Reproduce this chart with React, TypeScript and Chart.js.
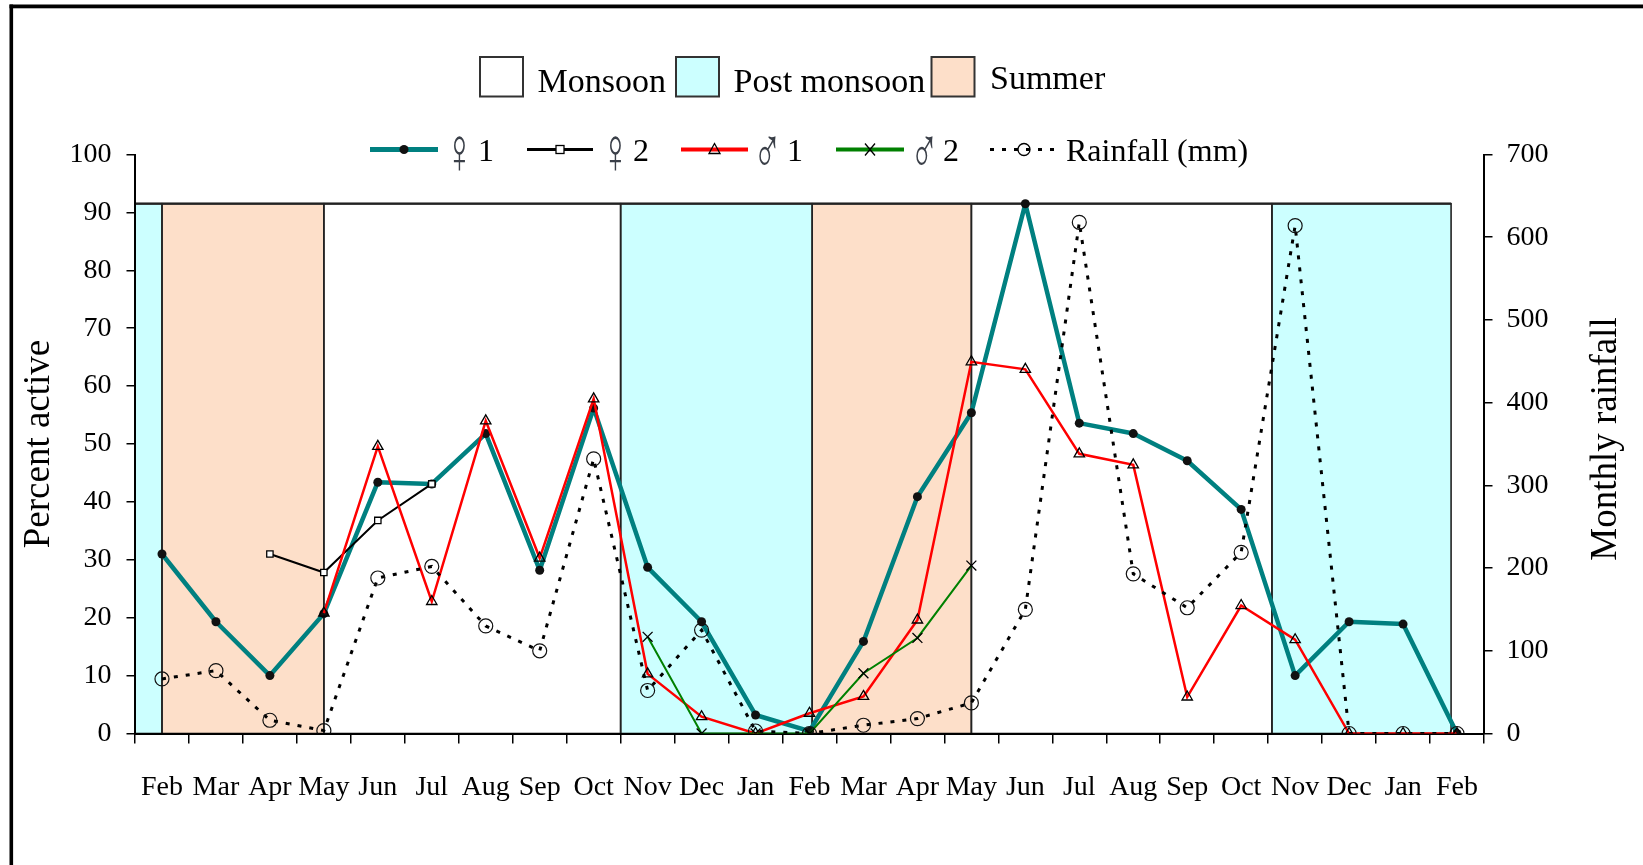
import React, { useEffect, useRef } from 'react';
import { Chart, registerables } from 'chart.js';

Chart.register(...registerables);

// ---------- data ----------
const months = ['Feb', 'Mar', 'Apr', 'May', 'Jun', 'Jul', 'Aug', 'Sep', 'Oct', 'Nov', 'Dec', 'Jan', 'Feb', 'Mar', 'Apr', 'May', 'Jun', 'Jul', 'Aug', 'Sep', 'Oct', 'Nov', 'Dec', 'Jan', 'Feb'];
const female1 = [31, 19.3, 10, 20.7, 43.4, 43.1, 51.8, 28.2, 56.2, 28.7, 19.3, 3.2, 0.4, 15.9, 40.9, 55.4, 91.5, 53.6, 51.8, 47.1, 38.7, 10, 19.3, 18.9, 0];
const female2 = [null, null, 31, 27.8, 36.8, 43.1, null, null, null, null, null, null, null, null, null, null, null, null, null, null, null, null, null, null, null];
const male1 = [null, null, null, 20.8, 49.6, 22.8, 54, 30.3, 57.8, 10.3, 2.9, 0, 3.5, 6.4, 19.6, 64.2, 62.9, 48.3, 46.4, 6.3, 22.1, 16.2, 0, 0, 0];
const male2 = [null, null, null, null, null, null, null, null, null, 16.7, 0, 0, 0, 10.4, 16.5, 29, null, null, null, null, null, null, null, null, null];
const rainfall = [66, 76, 16, 3.5, 188, 202, 130, 100, 332, 52, 125, 3, 0, 10, 18, 37, 150, 618, 193, 152, 219, 614, 0, 0, 0];

const seasonNames = ['Monsoon', 'Post monsoon', 'Summer'];
const seasonColors = ['#FFFFFF', '#CCFFFF', '#FDDFC9'];
// season bands in category-index units
const bandStart = [-0.5, 0, 3, 8.5, 12.05, 15, 20.57];
const bandEnd = [0, 3, 8.5, 12.05, 15, 20.57, 23.89];
const bandSeason = [1, 2, 0, 1, 2, 0, 1];
const bandTop = 91.5;

const seriesSymbols = ['\u2640', '\u2640', '\u2642', '\u2642', ''];
const seriesNumbers = ['1', '2', '1', '2', 'Rainfall (mm)'];
const seriesNames = ['\u2640 1', '\u2640 2', '\u2642 1', '\u2642 2', 'Rainfall (mm)'];
const leftTitle = 'Percent active';
const rightTitle = 'Monthly rainfall';

const SERIF = '"Liberation Serif", "Times New Roman", serif';
const TEAL = '#008080';
const RED = '#FF0000';
const GREEN = '#008000';

function drawMarker(ctx: CanvasRenderingContext2D, type: string, cx: number, cy: number) {
  ctx.save();
  ctx.setLineDash([]);
  ctx.strokeStyle = '#000';
  ctx.lineWidth = 1.3;
  if (type === 'dot') {
    ctx.fillStyle = '#111';
    ctx.beginPath();
    ctx.arc(cx, cy, 4.5, 0, Math.PI * 2);
    ctx.fill();
  } else if (type === 'rect') {
    ctx.fillStyle = '#fff';
    ctx.fillRect(cx - 4, cy - 4, 8, 8);
    ctx.strokeRect(cx - 4, cy - 4, 8, 8);
  } else if (type === 'tri') {
    ctx.beginPath();
    ctx.moveTo(cx, cy - 6);
    ctx.lineTo(cx + 5.5, cy + 4);
    ctx.lineTo(cx - 5.5, cy + 4);
    ctx.closePath();
    ctx.stroke();
  } else if (type === 'x') {
    ctx.beginPath();
    ctx.moveTo(cx - 5, cy - 6);
    ctx.lineTo(cx + 5, cy + 6);
    ctx.moveTo(cx + 5, cy - 6);
    ctx.lineTo(cx - 5, cy + 6);
    ctx.stroke();
  } else if (type === 'circle') {
    ctx.beginPath();
    ctx.arc(cx, cy, 6, 0, Math.PI * 2);
    ctx.stroke();
  }
  ctx.restore();
}

const framePlugin = {
  id: 'frameAndBands',
  beforeDraw(chart: any) {
    const { ctx, scales } = chart;
    const x = scales.x;
    const y = scales.y;
    ctx.save();
    // outer frame (top and left edges)
    ctx.fillStyle = '#000';
    ctx.fillRect(9.5, 4.5, chart.width, 3.8);
    ctx.fillRect(9.5, 4.5, 3.6, chart.height);
    // season bands
    const yt = y.getPixelForValue(bandTop);
    const yb = y.getPixelForValue(0);
    bandStart.forEach((s, i) => {
      const x0 = x.getPixelForValue(s);
      const x1 = x.getPixelForValue(bandEnd[i]);
      ctx.fillStyle = seasonColors[bandSeason[i]];
      ctx.fillRect(x0, yt, x1 - x0, yb - yt);
    });
    ctx.strokeStyle = '#222';
    ctx.lineWidth = 1.6;
    bandStart.forEach((s, i) => {
      const x0 = x.getPixelForValue(s);
      const x1 = x.getPixelForValue(bandEnd[i]);
      ctx.strokeRect(x0, yt, x1 - x0, yb - yt);
    });
    ctx.lineWidth = 2.2;
    ctx.beginPath();
    ctx.moveTo(x.getPixelForValue(bandStart[0]), yt);
    ctx.lineTo(x.getPixelForValue(bandEnd[bandEnd.length - 1]), yt);
    ctx.stroke();
    ctx.restore();
  },
  afterDraw(chart: any) {
    const { ctx } = chart;
    ctx.save();
    ctx.fillStyle = '#000';
    // axis titles
    ctx.font = `37px ${SERIF}`;
    ctx.textAlign = 'center';
    ctx.textBaseline = 'alphabetic';
    ctx.save();
    ctx.translate(49, 444);
    ctx.rotate(-Math.PI / 2);
    ctx.fillText(leftTitle, 0, 0);
    ctx.restore();
    ctx.save();
    ctx.translate(1616, 439);
    ctx.rotate(-Math.PI / 2);
    ctx.fillText(rightTitle, 0, 0);
    ctx.restore();

    // season legend (row 1)
    const boxes = [
      { x: 480, tx: 537.5, ty: 91.5 },
      { x: 676, tx: 733.5, ty: 91.5 },
      { x: 931.5, tx: 990, ty: 88.5 },
    ];
    ctx.textAlign = 'left';
    ctx.font = `34px ${SERIF}`;
    boxes.forEach((b, i) => {
      ctx.fillStyle = seasonColors[i];
      ctx.fillRect(b.x, 57, 43, 39.5);
      ctx.strokeStyle = '#333';
      ctx.lineWidth = 2;
      ctx.strokeRect(b.x, 57, 43, 39.5);
      ctx.fillStyle = '#000';
      ctx.fillText(seasonNames[i], b.tx, b.ty);
    });

    // series legend (row 2)
    const ly = 149.5;
    const items = [
      { x0: 370, x1: 438, sx: 445, nx: 478, color: TEAL, w: 5, dash: [] as number[], m: 'dot' },
      { x0: 527, x1: 593, sx: 601, nx: 633, color: '#000', w: 3, dash: [] as number[], m: 'rect' },
      { x0: 681, x1: 748, sx: 753, nx: 787, color: RED, w: 4, dash: [] as number[], m: 'tri' },
      { x0: 836, x1: 904, sx: 910, nx: 943, color: GREEN, w: 4, dash: [] as number[], m: 'x' },
      { x0: 990, x1: 1058, sx: 1066, nx: 1066, color: '#000', w: 3, dash: [4, 8], m: 'circle' },
    ];
    items.forEach((it, i) => {
      ctx.save();
      ctx.strokeStyle = it.color;
      ctx.lineWidth = it.w;
      ctx.setLineDash(it.dash);
      ctx.beginPath();
      ctx.moveTo(it.x0, ly);
      ctx.lineTo(it.x1, ly);
      ctx.stroke();
      ctx.restore();
      drawMarker(ctx, it.m, (it.x0 + it.x1) / 2, ly);
      if (seriesSymbols[i]) {
        ctx.save();
        ctx.translate(it.sx, 173);
        ctx.scale(0.62, 1.05);
        ctx.fillStyle = '#3a3f48';
        ctx.font = `200 62px "DejaVu Sans", sans-serif`;
        ctx.fillText(seriesSymbols[i], 0, 0);
        ctx.restore();
      }
      ctx.fillStyle = '#000';
      ctx.font = `32px ${SERIF}`;
      ctx.fillText(seriesNumbers[i], it.nx, 161);
    });
    ctx.restore();
  },
};

export default function App() {
  const ref = useRef<HTMLCanvasElement>(null);

  useEffect(() => {
    document.body.style.margin = '0';
    const tickFont = { family: SERIF, size: 28 };
    const chart = new Chart(ref.current as HTMLCanvasElement, {
      type: 'line',
      data: {
        labels: months,
        datasets: [
          {
            label: seriesNames[0],
            data: female1,
            borderColor: TEAL,
            borderWidth: 4.5,
            borderJoinStyle: 'round',
            pointRadius: 4.5,
            pointBackgroundColor: '#111',
            pointBorderColor: '#111',
            pointBorderWidth: 0,
            yAxisID: 'y',
            order: 5,
          },
          {
            label: seriesNames[1],
            data: female2,
            borderColor: '#000',
            borderWidth: 2,
            pointStyle: 'rect',
            pointRadius: 4.5,
            pointBackgroundColor: '#fff',
            pointBorderColor: '#000',
            pointBorderWidth: 1.3,
            yAxisID: 'y',
            order: 4,
          },
          {
            label: seriesNames[2],
            data: male1,
            borderColor: RED,
            borderWidth: 2.5,
            pointStyle: 'triangle',
            pointRadius: 6,
            pointBackgroundColor: 'rgba(255,255,255,0)',
            pointBorderColor: '#000',
            pointBorderWidth: 1.3,
            yAxisID: 'y',
            order: 3,
          },
          {
            label: seriesNames[3],
            data: male2,
            borderColor: GREEN,
            borderWidth: 2,
            pointStyle: 'crossRot',
            pointRadius: 7,
            pointBorderColor: '#000',
            pointBorderWidth: 1.3,
            yAxisID: 'y',
            order: 2,
          },
          {
            label: seriesNames[4],
            data: rainfall,
            borderColor: '#000',
            borderWidth: 3,
            borderDash: [4, 8],
            pointStyle: 'circle',
            pointRadius: 7,
            pointBackgroundColor: 'rgba(255,255,255,0)',
            pointBorderColor: '#111',
            pointBorderWidth: 1.2,
            yAxisID: 'y1',
            order: 1,
          },
        ],
      },
      options: {
        animation: false,
        responsive: false,
        events: [],
        layout: { padding: { top: 154.5, left: 0, right: 0, bottom: 0 } },
        plugins: { legend: { display: false }, tooltip: { enabled: false }, title: { display: false } },
        scales: {
          x: {
            type: 'category',
            offset: true,
            grid: { offset: true, drawOnChartArea: false, drawTicks: true, tickLength: 10, color: '#000', lineWidth: 1.5 },
            border: { display: true, color: '#000', width: 2 },
            ticks: { color: '#000', font: tickFont, padding: 27, maxRotation: 0, autoSkip: false },
            afterFit: (s: any) => { s.height = 131.5; },
          },
          y: {
            position: 'left',
            min: 0,
            max: 100,
            grid: { drawOnChartArea: false, drawTicks: true, tickLength: 8.5, color: '#000', lineWidth: 1.5 },
            border: { display: true, color: '#000', width: 2 },
            ticks: { stepSize: 10, color: '#000', font: tickFont, padding: 15 },
            afterFit: (s: any) => { s.width = 135; },
          },
          y1: {
            position: 'right',
            min: 0,
            max: 700,
            grid: { drawOnChartArea: false, drawTicks: true, tickLength: 8.5, color: '#000', lineWidth: 1.5 },
            border: { display: true, color: '#000', width: 2 },
            ticks: { stepSize: 100, color: '#000', font: tickFont, padding: 14 },
            afterFit: (s: any) => { s.width = 159; },
          },
        },
      } as any,
      plugins: [framePlugin],
    });
    return () => chart.destroy();
  }, []);

  return (
    <div style={{ width: 1643, height: 865, position: 'relative', background: '#fff' }}>
      <canvas ref={ref} width={1643} height={865} style={{ display: 'block' }} />
    </div>
  );
}
